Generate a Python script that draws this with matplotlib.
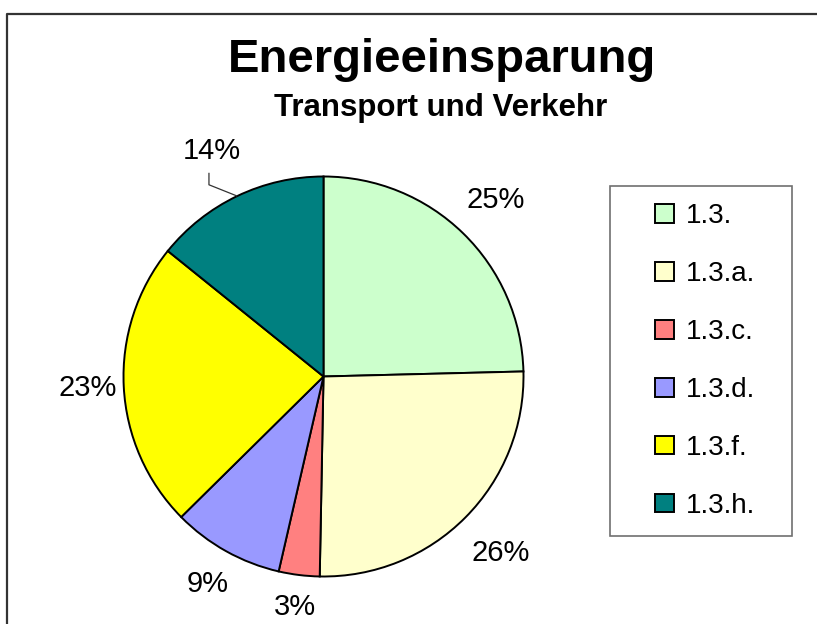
import numpy as np
import matplotlib
matplotlib.use("Agg")
import matplotlib.pyplot as plt
from matplotlib.patches import Rectangle

# data (percent shares)
labels = ["1.3.", "1.3.a.", "1.3.c.", "1.3.d.", "1.3.f.", "1.3.h."]
shares = [24.6, 25.7, 3.3, 9.0, 23.2, 14.2]
colors = ["#CCFFCC", "#FFFFCC", "#FF8080", "#9999FF", "#FFFF00", "#008080"]

plt.rcParams["font.family"] = ["Liberation Sans", "DejaVu Sans"]

W, H = 817, 624
fig = plt.figure(figsize=(W / 100, H / 100), dpi=100)
ax = fig.add_axes([0, 0, 1, 1])

# pie geometry in pixel units (y measured from bottom)
cx, cy, R = 323.5, H - 376.5, 200

wedges, texts, autotexts = ax.pie(
    shares, colors=colors, startangle=90, counterclock=False,
    center=(cx, cy), radius=R, autopct="%.0f%%", pctdistance=1.2,
    wedgeprops=dict(edgecolor="black", linewidth=1.4),
    textprops=dict(fontsize=21, color="black"))

ax.set_xlim(0, W)
ax.set_ylim(0, H)
ax.set_aspect("equal")
ax.axis("off")

# label distances as placed in the original (fraction of radius)
lab_dist = [1.23, 1.25, 1.16, 1.19, 1.18, 1.26]
for w, t, d in zip(wedges, autotexts, lab_dist):
    mid = np.deg2rad((w.theta1 + w.theta2) / 2)
    t.set_position((cx + d * R * np.cos(mid), cy + d * R * np.sin(mid)))

# the 14% label was moved out with a leader line
w = wedges[-1]
mid = np.deg2rad((w.theta1 + w.theta2) / 2)
edge = (cx + R * np.cos(mid), cy + R * np.sin(mid))
lab = (cx + 1.26 * R * np.cos(np.deg2rad(116.4)), cy + 1.26 * R * np.sin(np.deg2rad(116.4)))
autotexts[-1].set_position(lab)
knee = (lab[0] - 2.5, lab[1] - 34)
top = (lab[0] - 2.5, lab[1] - 22)
ax.plot([edge[0], knee[0], top[0]], [edge[1], knee[1], top[1]],
        color="#333333", lw=0.9, solid_capstyle="butt")

# titles
ax.text(442, H - 72, "Energieeinsparung", ha="center", va="baseline",
        fontsize=34, fontweight="bold")
ax.text(441, H - 116, "Transport und Verkehr", ha="center", va="baseline",
        fontsize=22.5, fontweight="bold")

# legend with a separate frame
leg = ax.legend(wedges, labels, loc="upper left",
                bbox_to_anchor=(655, H - 203), bbox_transform=ax.transData,
                frameon=False, fontsize=20, handlelength=0.67, handleheight=0.67,
                handletextpad=0.43, labelspacing=1.15, borderpad=0, borderaxespad=0)
ax.add_patch(Rectangle((610, H - 536), 182, 350, fill=False,
                       edgecolor="#707070", lw=1.2))

# outer chart border (runs off the right and bottom)
ax.plot([7.5, 7.5, W + 5], [-5, H - 14, H - 14], color="#333333", lw=1.6)

fig.savefig("out.png", dpi=100)
